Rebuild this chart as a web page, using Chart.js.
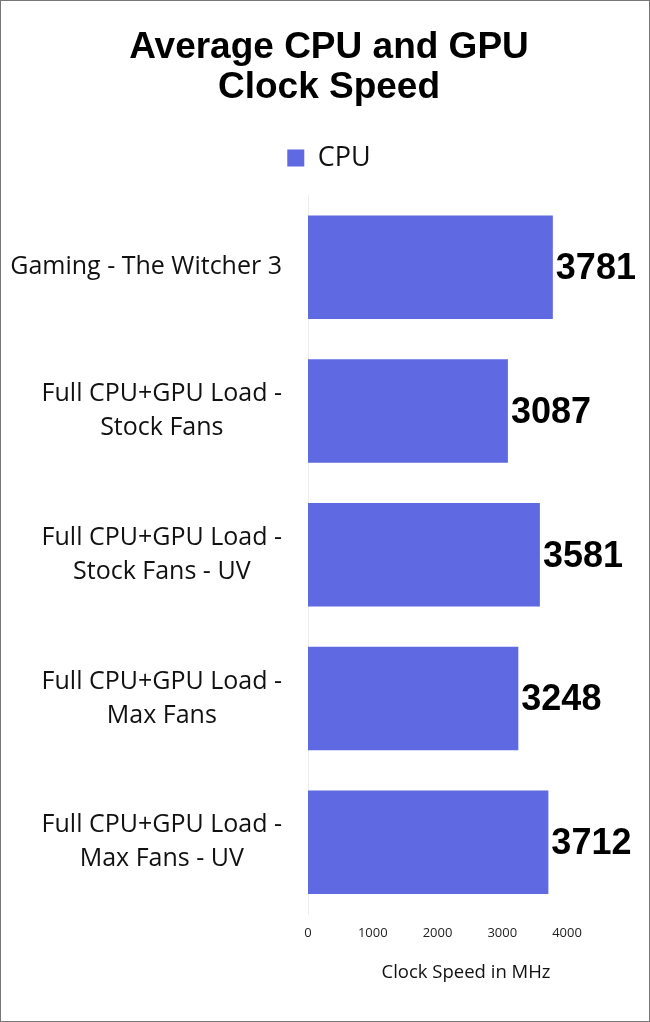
<!DOCTYPE html>
<html>
<head>
<meta charset="utf-8">
<script src="https://cdn.jsdelivr.net/npm/chart.js@4"></script>
<style>
  html, body { margin: 0; padding: 0; background: #fff; }
  #wrap { width: 650px; height: 1022px; box-sizing: border-box; border: 1px solid #777; position: relative; }
  canvas { display: block; }
</style>
</head>
<body>
<div id="wrap"><canvas id="grafico"></canvas></div>
<script>
// Dados do gráfico
const categorias = [
    ['Gaming - The Witcher 3'],
    ['Full CPU+GPU Load -', 'Stock Fans'],
    ['Full CPU+GPU Load -', 'Stock Fans - UV'],
    ['Full CPU+GPU Load -', 'Max Fans'],
    ['Full CPU+GPU Load -', 'Max Fans - UV'],
];
const cpu = [3781, 3087, 3581, 3248, 3712];
const ticksX = [0, 1000, 2000, 3000, 4000];

const fonteLabels = '"Open Sans", "Noto Sans", sans-serif';

// Rótulos do eixo Y: bloco alinhado à direita, linhas centralizadas entre si
const rotulosY = {
    id: 'rotulosY',
    afterDraw(chart) {
        const { ctx, scales: { y } } = chart;
        ctx.save();
        ctx.font = '25px ' + fonteLabels;
        ctx.fillStyle = '#111';
        ctx.textAlign = 'center';
        ctx.textBaseline = 'middle';
        const direita = y.right - 26;
        const alturaLinha = 34;
        categorias.forEach((linhas, i) => {
            const yc = y.getPixelForValue(i);
            const largura = Math.max(...linhas.map(l => ctx.measureText(l).width));
            const xc = direita - largura / 2;
            const topo = yc - (linhas.length - 1) * alturaLinha / 2;
            linhas.forEach((l, k) => ctx.fillText(l, xc, topo + k * alturaLinha));
        });
        ctx.restore();
    }
};

// Valores no fim das barras
const valoresBarras = {
    id: 'valoresBarras',
    afterDatasetsDraw(chart) {
        const { ctx } = chart;
        const meta = chart.getDatasetMeta(0);
        ctx.save();
        ctx.font = 'bold 36px "Liberation Sans", Arial, sans-serif';
        ctx.fillStyle = '#000';
        ctx.textAlign = 'left';
        ctx.textBaseline = 'middle';
        meta.data.forEach((bar, i) => {
            ctx.fillText(String(cpu[i]), bar.x + 3, bar.y + 2);
        });
        ctx.restore();
    }
};

// Espaço extra entre a legenda e as barras
const espacoLegenda = {
    id: 'espacoLegenda',
    beforeInit(chart) {
        const fitOriginal = chart.legend.fit;
        chart.legend.fit = function () {
            fitOriginal.bind(chart.legend)();
            this.height += 14;
        };
    }
};

const canvas = document.getElementById('grafico');
canvas.width = 648;
canvas.height = 1020;

new Chart(canvas.getContext('2d'), {
    type: 'bar',
    data: {
        labels: categorias,
        datasets: [{
            label: 'CPU',
            data: cpu,
            backgroundColor: '#5f69e2',
            borderWidth: 0,
            categoryPercentage: 0.72,
            barPercentage: 1.0,
        }],
    },
    plugins: [rotulosY, valoresBarras, espacoLegenda],
    options: {
        indexAxis: 'y',
        responsive: false,
        animation: false,
        layout: { padding: { top: 26, right: 25, bottom: 37, left: 33 } },
        scales: {
            x: {
                min: 0,
                max: 4880,
                afterBuildTicks(scale) {
                    scale.ticks = ticksX.map(v => ({ value: v }));
                },
                grid: { display: false, drawTicks: false },
                border: { display: false },
                ticks: {
                    color: '#222',
                    font: { size: 13, family: fonteLabels },
                    padding: 11,
                    maxRotation: 0,
                    callback: (v) => String(v),
                },
                title: {
                    display: true,
                    text: 'Clock Speed in MHz',
                    color: '#111',
                    font: { size: 18.5, family: fonteLabels },
                    padding: { top: 10, bottom: 0 },
                },
            },
            y: {
                grid: { display: false, drawTicks: false },
                border: { display: true, color: '#ececec' },
                ticks: { color: 'rgba(0,0,0,0)', font: { size: 22, family: fonteLabels } },
                afterFit(scale) { scale.width = 274; },
            },
        },
        plugins: {
            title: {
                display: true,
                text: ['Average CPU and GPU', 'Clock Speed'],
                color: '#000',
                font: { size: 37, weight: 'bold', family: '"Liberation Sans", Arial, sans-serif', lineHeight: 1.1 },
                padding: { top: 0, bottom: 11 },
            },
            legend: {
                display: true,
                labels: {
                    color: '#111',
                    font: { size: 27, family: fonteLabels },
                    boxWidth: 17,
                    boxHeight: 17,
                    padding: 25,
                },
            },
            tooltip: { enabled: false },
        },
    },
});
</script>
</body>
</html>
